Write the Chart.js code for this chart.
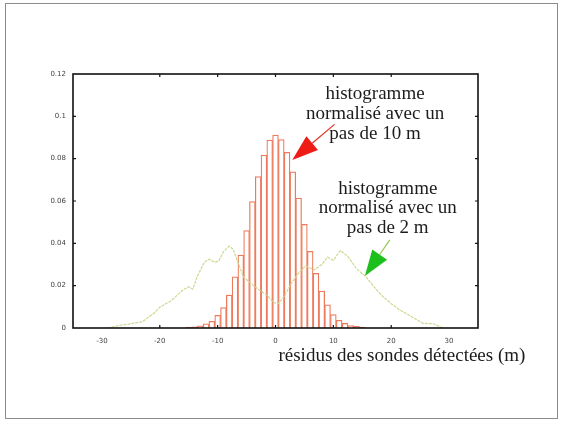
<!DOCTYPE html>
<html><head><meta charset="utf-8">
<script src="https://cdn.jsdelivr.net/npm/chart.js@4.4.1/dist/chart.umd.min.js"></script>
<style>
html,body{margin:0;padding:0;background:#fff;}
#wrap{position:relative;width:566px;height:430px;overflow:hidden;}
#frame{position:absolute;left:5px;top:3px;width:553px;height:416px;border:1px solid #8c8c8c;box-sizing:border-box;}
canvas{position:absolute;left:0;top:0;}
</style></head><body>
<div id="wrap"><div id="frame"></div><canvas id="c" width="566" height="430"></canvas></div>
<script>
// histogram, step 10 m (bins of width 1 on the plotted axis)
const binCenters = [-15,-14,-13,-12,-11,-10,-9,-8,-7,-6,-5,-4,-3,-2,-1,0,1,2,3,4,5,6,7,8,9,10,11,12,13,14,15];
const hist10 = [0.0003,0.0005,0.001,0.002,0.0032,0.006,0.0096,0.0156,0.0242,0.0345,0.046,0.0597,0.0715,0.0817,0.0888,0.0911,0.089,0.083,0.0738,0.0614,0.049,0.0362,0.0258,0.0174,0.0109,0.0063,0.0036,0.0022,0.0012,0.0008,0.0004];
// histogram, step 2 m (curve)
const curveX = [-29,-27,-25,-23,-21,-20,-18,-16,-15,-14.3,-13.5,-12.3,-11.5,-10.5,-9.8,-9,-8,-7.3,-6.5,-5.5,-4,-2.8,-1.5,-0.3,0.5,1.5,2.7,4,5.2,6.7,8,9,10,11.2,12.5,14,15.6,17,18.5,20,21.5,23.5,25.5,27.3,28.9];
const curveY = [0,0.0012,0.002,0.003,0.007,0.0098,0.013,0.018,0.0195,0.0184,0.0245,0.031,0.0325,0.031,0.0318,0.036,0.0387,0.0372,0.031,0.024,0.0205,0.018,0.0156,0.012,0.0115,0.015,0.021,0.026,0.0293,0.0275,0.03,0.0335,0.032,0.0366,0.0338,0.028,0.0243,0.0195,0.015,0.0115,0.0085,0.0054,0.0022,0.002,0];
const xTicks = [-30,-20,-10,0,10,20,30];
const yTicks = [0,0.02,0.04,0.06,0.08,0.1,0.12];
const xTitle = 'résidus des sondes détectées (m)';
const note1 = ['histogramme','normalisé avec un','pas de 10 m'];
const note2 = ['histogramme','normalisé avec un','pas de 2 m'];
// annotation anchors in data units
const note1Pos = {x:17.2, y:0.1082};
const note2Pos = {x:19.4, y:0.0635};
const titlePos = {x:21.85, y:-0.0156};
const arrow1 = {fromX:10.2, fromY:0.0962, toX:2.9, toY:0.0794};
const arrow2 = {fromX:19.75, fromY:0.0416, toX:15.45, toY:0.0246};

function drawArrow(ctx, x1, y1, x2, y2, lineColor, headColor, headLen, headW){
  const a = Math.atan2(y2-y1, x2-x1);
  const bx = x2 - headLen*Math.cos(a), by = y2 - headLen*Math.sin(a);
  ctx.save();
  ctx.strokeStyle = lineColor; ctx.lineWidth = 1.3;
  ctx.beginPath(); ctx.moveTo(x1,y1); ctx.lineTo(bx,by); ctx.stroke();
  ctx.fillStyle = headColor;
  ctx.beginPath();
  ctx.moveTo(x2,y2);
  ctx.lineTo(bx + headW*Math.sin(a), by - headW*Math.cos(a));
  ctx.lineTo(bx - headW*Math.sin(a), by + headW*Math.cos(a));
  ctx.closePath(); ctx.fill();
  ctx.restore();
}

const deco = {
  id:'deco',
  afterDatasetsDraw(chart){
    const {ctx, chartArea:a, scales:{x, y}} = chart;
    ctx.save();
    ctx.strokeStyle = '#111'; ctx.lineWidth = 1.6;
    ctx.strokeRect(a.left, a.top, a.right-a.left, a.bottom-a.top);
    ctx.lineWidth = 1.2;
    ctx.beginPath();
    xTicks.slice(1,-1).forEach(v=>{
      const px = x.getPixelForValue(v);
      ctx.moveTo(px, a.bottom); ctx.lineTo(px, a.bottom-3);
      ctx.moveTo(px, a.top); ctx.lineTo(px, a.top+3);
    });
    yTicks.slice(1,-1).forEach(v=>{
      const py = y.getPixelForValue(v);
      ctx.moveTo(a.left, py); ctx.lineTo(a.left+3, py);
      ctx.moveTo(a.right, py); ctx.lineTo(a.right-3, py);
    });
    ctx.stroke();
    ctx.restore();
  },
  afterDraw(chart){
    const {ctx, scales:{x, y}} = chart;
    ctx.save();
    ctx.fillStyle = '#1c1c1c';
    ctx.font = '19px "Liberation Serif", "Times New Roman", serif';
    ctx.textAlign = 'center'; ctx.textBaseline = 'alphabetic';
    const lh = 20;
    note1.forEach((t,i)=>ctx.fillText(t, x.getPixelForValue(note1Pos.x), y.getPixelForValue(note1Pos.y)+i*lh));
    note2.forEach((t,i)=>ctx.fillText(t, x.getPixelForValue(note2Pos.x), y.getPixelForValue(note2Pos.y)+i*19.5));
    ctx.fillText(xTitle, x.getPixelForValue(titlePos.x), y.getPixelForValue(titlePos.y));
    ctx.restore();
    drawArrow(ctx, x.getPixelForValue(arrow1.fromX), y.getPixelForValue(arrow1.fromY),
      x.getPixelForValue(arrow1.toX), y.getPixelForValue(arrow1.toY), '#e03a2a', '#ee1c14', 26, 9);
    drawArrow(ctx, x.getPixelForValue(arrow2.fromX), y.getPixelForValue(arrow2.fromY),
      x.getPixelForValue(arrow2.toX), y.getPixelForValue(arrow2.toY), '#9ccc60', '#1dbf1d', 26, 9);
  }
};

new Chart(document.getElementById('c'), {
  type:'bar',
  data:{
    datasets:[
      {
        type:'bar',
        data: binCenters.map((v,i)=>({x:v, y:hist10[i]})),
        backgroundColor:'rgba(255,255,255,0)',
        borderColor:'#ee7a5c',
        borderWidth:0.6,
        barPercentage:1, categoryPercentage:1,
        order:2
      },
      {
        type:'line',
        data: curveX.map((v,i)=>({x:v, y:curveY[i]})),
        borderColor:'#cad98e',
        borderWidth:1.2,
        borderDash:[3,1],
        pointRadius:0,
        tension:0,
        fill:false,
        order:1
      }
    ]
  },
  options:{
    responsive:false,
    animation:false,
    events:[],
    layout:{padding:{left:0, top:74, right:88, bottom:0}},
    plugins:{legend:{display:false}, tooltip:{enabled:false}},
    scales:{
      x:{
        type:'linear', min:-30, max:30,
        afterBuildTicks(s){ s.ticks = xTicks.map(v=>({value:v})); },
        afterFit(s){ s.height = 102; },
        grid:{display:false, drawTicks:false},
        border:{display:false},
        ticks:{padding:9, maxRotation:0, autoSkip:false, color:'#444', font:{family:'DejaVu Sans', size:7},
          callback:(v)=>String(v)}
      },
      y:{
        type:'linear', min:0, max:0.12,
        afterBuildTicks(s){ s.ticks = yTicks.map(v=>({value:v})); },
        afterFit(s){ s.width = 73; },
        grid:{display:false, drawTicks:false},
        border:{display:false},
        ticks:{padding:7, autoSkip:false, color:'#444', font:{family:'DejaVu Sans', size:7},
          callback:(v)=>String(parseFloat(Number(v).toFixed(2)))}
      }
    }
  },
  plugins:[deco]
});
</script>
</body></html>
